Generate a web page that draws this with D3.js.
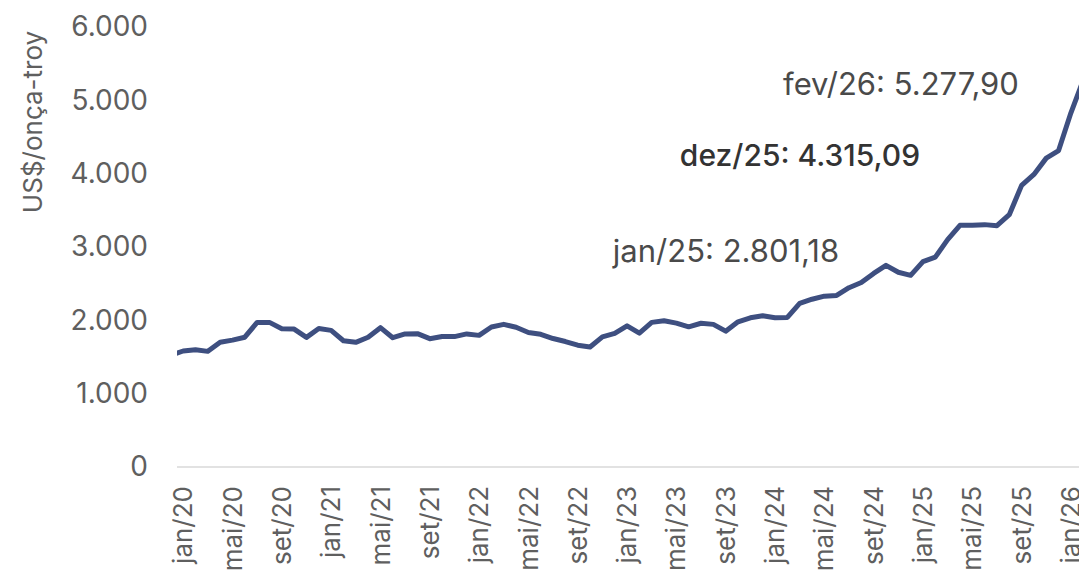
<!DOCTYPE html>
<html>
<head>
<meta charset="utf-8">
<script src="https://cdn.jsdelivr.net/npm/d3@7"></script>
<style>
  body { margin: 0; background: #fff; }
  svg { display: block; font-family: "Inter", "Roboto", sans-serif; }
</style>
</head>
<body>
<div id="chart"></div>
<script>
// month labels (dez/19 is only a stub clipped at the left edge of the plot)
var months = ["dez/19",
  "jan/20","fev/20","mar/20","abr/20","mai/20","jun/20","jul/20","ago/20","set/20","out/20","nov/20","dez/20",
  "jan/21","fev/21","mar/21","abr/21","mai/21","jun/21","jul/21","ago/21","set/21","out/21","nov/21","dez/21",
  "jan/22","fev/22","mar/22","abr/22","mai/22","jun/22","jul/22","ago/22","set/22","out/22","nov/22","dez/22",
  "jan/23","fev/23","mar/23","abr/23","mai/23","jun/23","jul/23","ago/23","set/23","out/23","nov/23","dez/23",
  "jan/24","fev/24","mar/24","abr/24","mai/24","jun/24","jul/24","ago/24","set/24","out/24","nov/24","dez/24",
  "jan/25","fev/25","mar/25","abr/25","mai/25","jun/25","jul/25","ago/25","set/25","out/25","nov/25","dez/25",
  "jan/26","fev/26"];

// gold price, US$/troy ounce (end of month)
var prices = [1523,
  1582, 1600, 1577, 1702, 1730, 1770, 1971, 1972, 1886, 1881, 1768, 1888,
  1863, 1722, 1700, 1769, 1900, 1763, 1815, 1818, 1750, 1780, 1778, 1815,
  1795, 1909, 1945, 1905, 1835, 1810, 1752, 1711, 1661, 1636, 1775, 1822,
  1925, 1826, 1972, 1995, 1962, 1912, 1960, 1945, 1852, 1980, 2035, 2062,
  2036, 2040, 2230, 2288, 2330, 2340, 2445, 2515, 2640, 2750, 2655, 2614,
  2801.18, 2862, 3100, 3295, 3298, 3305, 3290, 3440, 3840, 3990, 4212, 4315.09,
  4830, 5277.90];

var yTicks = [0, 1000, 2000, 3000, 4000, 5000, 6000];

var annotations = [
  {text: "fev/26: 5.277,90", value: 5277.90, bold: false},
  {text: "dez/25: 4.315,09", value: 4315.09, bold: true},
  {text: "jan/25: 2.801,18", value: 2801.18, bold: false}
];

var width = 1079, height = 578;
var plot = {left: 177, top: 27, bottom: 467, step: 12.33};

var svg = d3.select("#chart")
  .append("svg")
    .attr("width", width)
    .attr("height", height);

// scales
var xScale = d3.scaleBand()
    .domain(months)
    .range([plot.left - plot.step, plot.left + (months.length - 1) * plot.step])
    .paddingInner(0).paddingOuter(0);

var yScale = d3.scaleLinear()
    .domain([0, 6000])
    .range([plot.bottom, plot.top]);

function xPos(m) { return xScale(m) + xScale.bandwidth() / 2; }

var fmt = d3.formatLocale({decimal: ",", thousands: ".", grouping: [3], currency: ["US$", ""]}).format(",.0f");

// y axis labels (no line, no ticks)
var yAxis = d3.axisLeft(yScale).tickValues(yTicks).tickFormat(fmt).tickSize(0).tickPadding(0);
var gy = svg.append("g")
    .attr("transform", "translate(148,0)")
    .call(yAxis);
gy.select(".domain").remove();
gy.selectAll("text")
    .attr("font-family", "Inter, sans-serif")
    .attr("font-size", 28)
    .attr("fill", "#5f5f5f");

// x axis
var xAxis = d3.axisBottom(xScale)
    .tickValues(months.filter(function(m, i) { return i > 0 && (i - 1) % 4 === 0; }))
    .tickSize(0);
var gx = svg.append("g")
    .attr("transform", "translate(0," + plot.bottom + ")")
    .call(xAxis);
gx.select(".domain").remove();
gx.selectAll("text")
    .attr("font-family", "Inter, sans-serif")
    .attr("font-size", 26)
    .attr("fill", "#5f5f5f")
    .attr("text-anchor", "end")
    .attr("transform", "rotate(-90)")
    .attr("x", -19)
    .attr("y", 0)
    .attr("dy", "0.35em");

svg.append("line")
    .attr("x1", plot.left).attr("x2", width)
    .attr("y1", plot.bottom).attr("y2", plot.bottom)
    .attr("stroke", "#d9d9d9")
    .attr("stroke-width", 1.3);

// y axis title
svg.append("text")
    .attr("transform", "translate(42,122) rotate(-90)")
    .attr("text-anchor", "middle")
    .attr("font-size", 26)
    .attr("fill", "#5f5f5f")
    .text("US$/onça-troy");

// clip to plot area
svg.append("clipPath")
    .attr("id", "plotClip")
  .append("rect")
    .attr("x", plot.left).attr("y", 0)
    .attr("width", width - plot.left).attr("height", height);

var line = d3.line()
    .x(function(d, i) { return xPos(months[i]); })
    .y(function(d) { return yScale(d); });

svg.append("path")
    .datum(prices)
    .attr("clip-path", "url(#plotClip)")
    .attr("d", line)
    .attr("fill", "none")
    .attr("stroke", "#3e4f80")
    .attr("stroke-width", 5)
    .attr("stroke-linejoin", "round");

// value annotations
var annoX = [901, 800, 726];
var annoDy = [15, 15, 0];
svg.selectAll(".anno")
    .data(annotations)
    .enter()
  .append("text")
    .attr("class", "anno")
    .attr("x", function(d, i) { return annoX[i]; })
    .attr("y", function(d, i) { return yScale(d.value) + annoDy[i]; })
    .attr("text-anchor", "middle")
    .attr("font-size", function(d) { return d.bold ? 30 : 31; })
    .attr("font-weight", function(d) { return d.bold ? 500 : 400; })
    .attr("fill", function(d) { return d.bold ? "#333333" : "#4a4a4a"; })
    .text(function(d) { return d.text; });
</script>
</body>
</html>
